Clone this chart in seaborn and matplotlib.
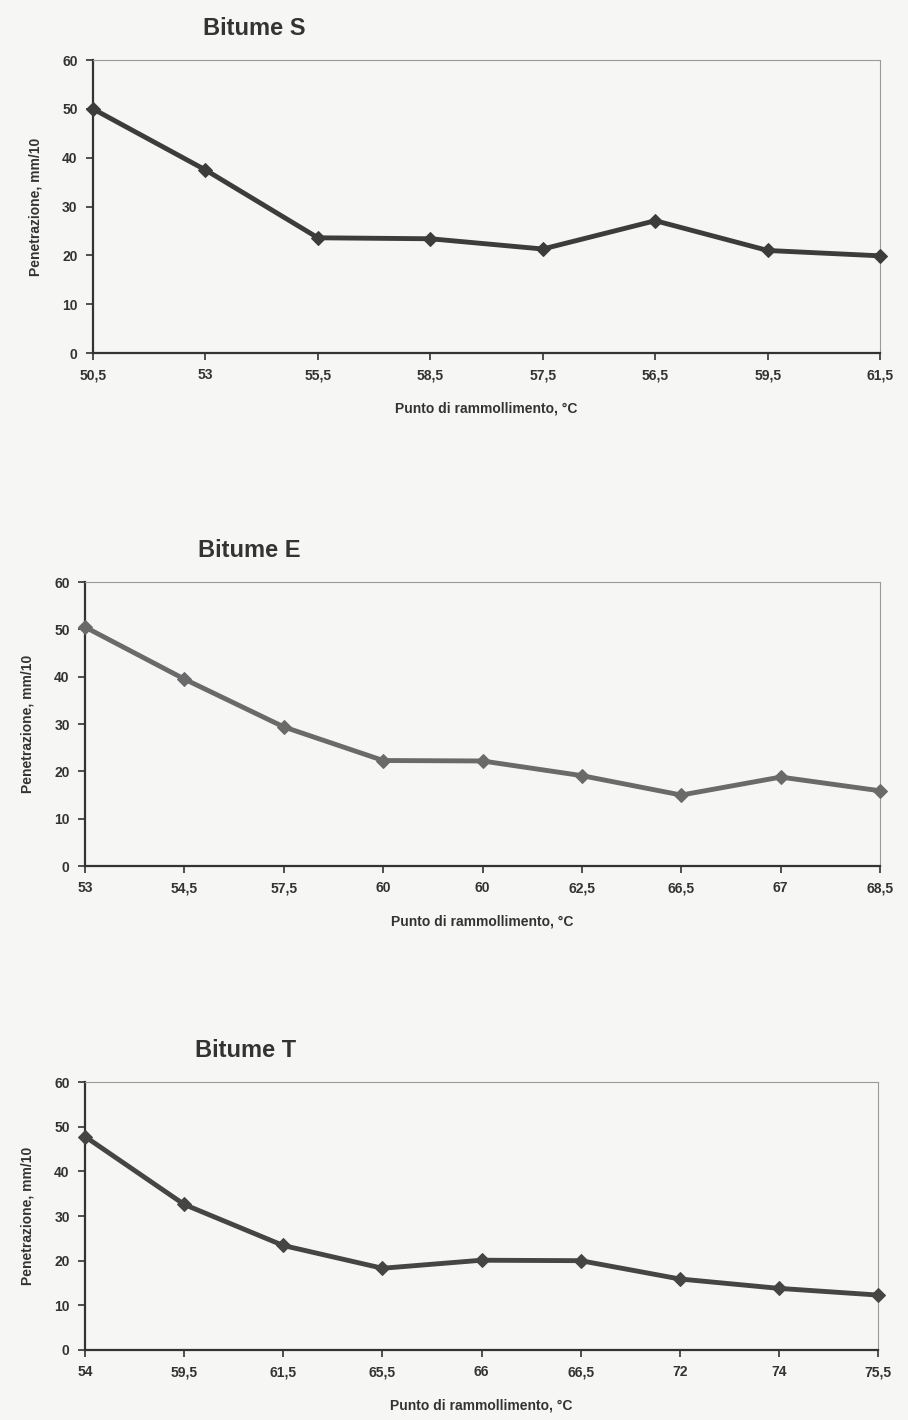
import seaborn as sns
import matplotlib.pyplot as plt
import pandas as pd

# Data
s_labels = ["50,5", "53", "55,5", "58,5", "57,5", "56,5", "59,5", "61,5"]
s_values = [50.0, 37.5, 23.6, 23.4, 21.3, 27.1, 21.0, 19.9]

e_labels = ["53", "54,5", "57,5", "60", "60", "62,5", "66,5", "67", "68,5"]
e_values = [50.5, 39.5, 29.4, 22.3, 22.2, 19.1, 15.0, 18.8, 15.9]

t_labels = ["54", "59,5", "61,5", "65,5", "66", "66,5", "72", "74", "75,5"]
t_values = [47.8, 32.6, 23.4, 18.3, 20.1, 20.0, 15.9, 13.8, 12.3]

sns.set_style("white")
plt.rcParams['font.family'] = ['Liberation Sans Narrow', 'Liberation Sans', 'DejaVu Sans']

bg = "#f6f6f4"
fig = plt.figure(figsize=(9.08, 14.2), dpi=100, facecolor=bg)

panels = [
    ("Bitume S", s_labels, s_values, [0.1024, 0.7514, 0.867, 0.2063], "#3c3c3c", 0.28),
    ("Bitume E", e_labels, e_values, [0.0936, 0.3901, 0.8756, 0.2000], "#6a6a6a", 0.275),
    ("Bitume T", t_labels, t_values, [0.0936, 0.0493, 0.8734, 0.1887], "#454545", 0.27),
]

for title, labels, values, rect, color, title_x in panels:
    ax = fig.add_axes(rect)
    ax.set_facecolor(bg)
    df = pd.DataFrame({"pos": range(len(values)), "pen": values})
    sns.lineplot(data=df, x="pos", y="pen", ax=ax, color=color, linewidth=3.5,
                 marker="D", markersize=7, markeredgecolor=color, clip_on=False,
                 zorder=5)
    ax.set_xlim(0, len(values) - 1)
    ax.set_ylim(0, 60)
    ax.set_yticks(range(0, 61, 10))
    ax.set_xticks(range(len(values)))
    ax.set_xticklabels(labels)
    for lab in ax.get_xticklabels() + ax.get_yticklabels():
        lab.set_fontweight("bold")
        lab.set_fontsize(10)
        lab.set_color("#333333")
    ax.tick_params(axis="both", direction="out", length=5, width=1.2, color="#333333",
                   bottom=True, left=True, pad=6)
    for side in ["left", "bottom"]:
        ax.spines[side].set_color("#333333")
        ax.spines[side].set_linewidth(1.6)
    for side in ["top", "right"]:
        ax.spines[side].set_color("#9a9a9a")
        ax.spines[side].set_linewidth(0.8)
        ax.spines[side].set_linestyle((0, (2, 1)))
    ax.set_xlabel("Punto di rammollimento, °C", fontsize=10, fontweight="bold",
                  color="#333333", labelpad=14)
    ax.set_ylabel("Penetrazione, mm/10", fontsize=10, fontweight="bold",
                  color="#333333", labelpad=14)
    ax.grid(False)
    top = rect[1] + rect[3]
    fig.text(title_x, top + 0.022, title, fontsize=17, fontweight="bold",
             color="#333333", ha="center", va="center")

fig.savefig("out.png", dpi=100, facecolor=bg)
